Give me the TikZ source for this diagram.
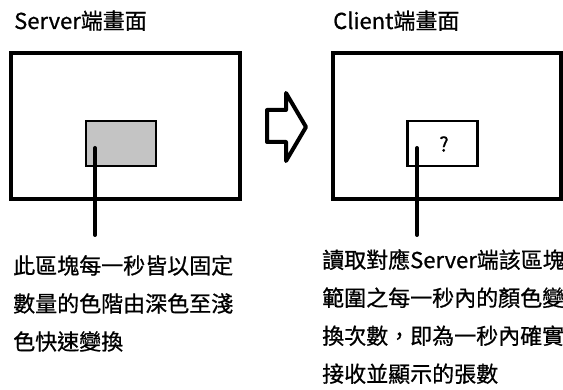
\documentclass[tikz,border=0pt]{standalone}
\usepackage{fontspec}
\setmainfont{Noto Sans CJK TC}[FakeBold=0.7]
\usetikzlibrary{positioning}

\tikzset{
  screen/.style={draw, line width=4pt, minimum width=229pt, minimum height=146pt, inner sep=0pt},
  region/.style={draw, line width=2.5pt, minimum width=70pt, minimum height=45pt, inner sep=0pt},
  title/.style={anchor=base west, inner sep=0pt, font=\fontsize{22}{26}\selectfont},
  note/.style={anchor=north west, align=left, inner sep=0pt, font=\fontsize{22}{38}\selectfont},
  lead/.style={line width=4pt, line cap=round}
}

\begin{document}
\begin{tikzpicture}[x=1pt, y=-1pt]
  \useasboundingbox (0,0) rectangle (563,390);

  % server side
  \node[title] (srvtitle) at (14,29) {Server端畫面};
  \node[screen] (srvscreen) at (125.5,126.5) {};
  \node[region, fill=black!23] (srvregion) at (121,143.5) {};
  \coordinate (srvdot) at (95,148);
  \coordinate (srvend) at (95,235);
  \draw[lead] (srvdot) -- (srvend);
  \node[note] (srvnote) at (13,255) {此區塊每一秒皆以固定\\數量的色階由深色至淺\\色快速變換};

  % block arrow in between
  \draw[line width=4pt, line join=round, fill=white]
    (267,110) -- (286,110) -- (286,93) -- (306,127) -- (286,161)
    -- (286,142) -- (267,142) -- cycle;

  % client side
  \node[title] (clttitle) at (333,29) {Client端畫面};
  \node[screen, minimum width=228pt] (cltscreen) at (447,126.5) {};
  \node[region] (cltregion) at (442.5,143.5) {};
  \node[font=\fontsize{20}{24}\selectfont] (cltmark) at (444,144) {?};
  \coordinate (cltdot) at (417,148);
  \coordinate (cltend) at (417,235);
  \draw[lead] (cltdot) -- (cltend);
  \node[note] (cltnote) at (322,249) {讀取對應Server端該區塊\\範圍之每一秒內的顏色變\\換次數，即為一秒內確實\\接收並顯示的張數};
\end{tikzpicture}
\end{document}
